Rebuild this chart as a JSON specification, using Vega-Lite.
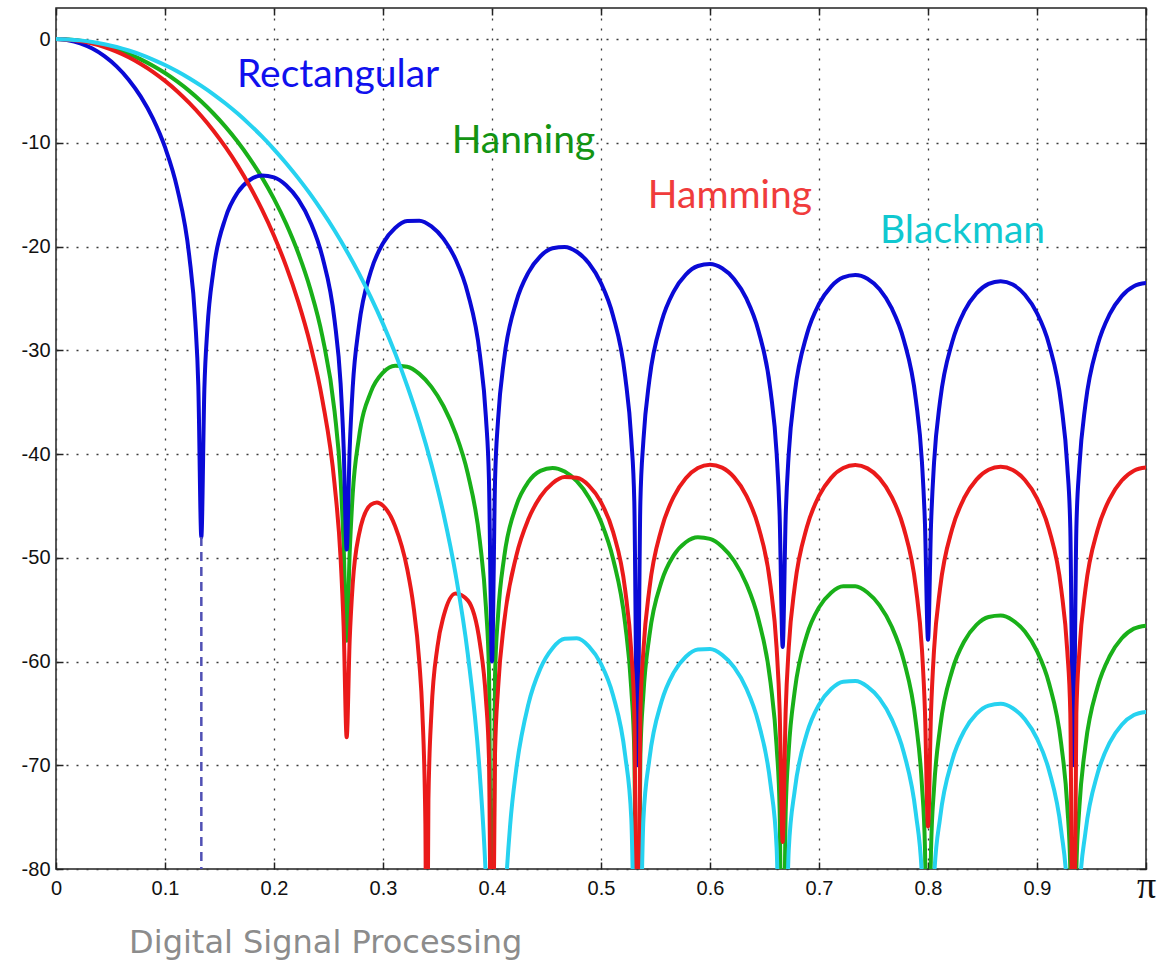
{
  "$schema": "https://vega.github.io/schema/vega-lite/v6.json",
  "width": 1090,
  "height": 861,
  "autosize": {"type": "none"},
  "padding": {"left": 56, "top": 8, "right": 12, "bottom": 91},
  "background": "white",
  "config": {
    "view": {"stroke": "#222222", "strokeWidth": 1.5},
    "axis": {"labelFont": "Liberation Sans", "labelFontSize": 20, "labelColor": "#111111", "tickColor": "#222222", "tickWidth": 1.5, "domain": false, "gridColor": "#3a3a3a", "gridDash": [2, 8], "gridWidth": 1.3, "gridOpacity": 1, "labelFlush": false}
  },
  "title": {"text": "Digital Signal Processing", "orient": "bottom", "anchor": "start", "dx": 108, "offset": 23, "font": "DejaVu Sans", "fontSize": 32, "fontWeight": "normal", "color": "#8c8c8c"},
  "resolve": {"axis": {"x": "independent", "y": "independent"}},
  "datasets": {
    "rect": [{"x":0,"y":0},{"x":0.01111,"y":-0.1},{"x":0.02222,"y":-0.4},{"x":0.03333,"y":-0.91},{"x":0.04444,"y":-1.64},{"x":0.05556,"y":-2.63},{"x":0.06667,"y":-3.91},{"x":0.07778,"y":-5.54},{"x":0.08889,"y":-7.64},{"x":0.1,"y":-10.42},{"x":0.11111,"y":-14.34},{"x":0.12222,"y":-20.87},{"x":0.12778,"y":-27.2},{"x":0.13056,"y":-33.39},{"x":0.13333,"y":-48},{"x":0.13611,"y":-33.74},{"x":0.13889,"y":-27.91},{"x":0.14444,"y":-22.3},{"x":0.15556,"y":-17.22},{"x":0.16667,"y":-14.79},{"x":0.17778,"y":-13.58},{"x":0.18889,"y":-13.14},{"x":0.2,"y":-13.32},{"x":0.21111,"y":-14.08},{"x":0.22222,"y":-15.45},{"x":0.23333,"y":-17.62},{"x":0.24444,"y":-21.01},{"x":0.25556,"y":-27.1},{"x":0.26111,"y":-33.22},{"x":0.26389,"y":-39.31},{"x":0.26667,"y":-49.2},{"x":0.26944,"y":-39.48},{"x":0.27222,"y":-33.56},{"x":0.27778,"y":-27.78},{"x":0.28889,"y":-22.38},{"x":0.3,"y":-19.67},{"x":0.31111,"y":-18.2},{"x":0.32222,"y":-17.53},{"x":0.33333,"y":-17.5},{"x":0.34444,"y":-18.06},{"x":0.35556,"y":-19.26},{"x":0.36667,"y":-21.25},{"x":0.37778,"y":-24.49},{"x":0.38889,"y":-30.43},{"x":0.39444,"y":-36.49},{"x":0.39722,"y":-42.54},{"x":0.4,"y":-60},{"x":0.40278,"y":-42.65},{"x":0.40556,"y":-36.7},{"x":0.41111,"y":-30.85},{"x":0.42222,"y":-25.33},{"x":0.43333,"y":-22.51},{"x":0.44444,"y":-20.93},{"x":0.45556,"y":-20.16},{"x":0.46667,"y":-20.03},{"x":0.47778,"y":-20.5},{"x":0.48889,"y":-21.61},{"x":0.5,"y":-23.52},{"x":0.51111,"y":-26.68},{"x":0.52222,"y":-32.55},{"x":0.52778,"y":-38.57},{"x":0.53056,"y":-44.6},{"x":0.53333,"y":-70},{"x":0.53611,"y":-44.67},{"x":0.53889,"y":-38.7},{"x":0.54444,"y":-32.82},{"x":0.55556,"y":-27.23},{"x":0.56667,"y":-24.34},{"x":0.57778,"y":-22.7},{"x":0.58889,"y":-21.87},{"x":0.6,"y":-21.68},{"x":0.61111,"y":-22.09},{"x":0.62222,"y":-23.14},{"x":0.63333,"y":-25},{"x":0.64444,"y":-28.11},{"x":0.65556,"y":-33.92},{"x":0.66111,"y":-39.92},{"x":0.66389,"y":-45.94},{"x":0.66667,"y":-58.6},{"x":0.66944,"y":-45.99},{"x":0.67222,"y":-40.01},{"x":0.67778,"y":-34.1},{"x":0.68889,"y":-28.46},{"x":0.7,"y":-25.53},{"x":0.71111,"y":-23.85},{"x":0.72222,"y":-22.97},{"x":0.73333,"y":-22.74},{"x":0.74444,"y":-23.1},{"x":0.75556,"y":-24.12},{"x":0.76667,"y":-25.94},{"x":0.77778,"y":-29},{"x":0.78889,"y":-34.78},{"x":0.79444,"y":-40.75},{"x":0.79722,"y":-46.76},{"x":0.8,"y":-57.9},{"x":0.80278,"y":-46.79},{"x":0.80556,"y":-40.8},{"x":0.81111,"y":-34.87},{"x":0.82222,"y":-29.2},{"x":0.83333,"y":-26.23},{"x":0.84444,"y":-24.51},{"x":0.85556,"y":-23.6},{"x":0.86667,"y":-23.33},{"x":0.87778,"y":-23.66},{"x":0.88889,"y":-24.64},{"x":0.9,"y":-26.42},{"x":0.91111,"y":-29.46},{"x":0.92222,"y":-35.2},{"x":0.92778,"y":-41.16},{"x":0.93056,"y":-47.16},{"x":0.93333,"y":-70},{"x":0.93611,"y":-47.17},{"x":0.93889,"y":-41.17},{"x":0.94444,"y":-35.23},{"x":0.95556,"y":-29.52},{"x":0.96667,"y":-26.52},{"x":0.97778,"y":-24.77},{"x":0.98889,"y":-23.82},{"x":1,"y":-23.52}],
    "hanning": [{"x":0,"y":0},{"x":0.01111,"y":-0.04},{"x":0.02222,"y":-0.16},{"x":0.03333,"y":-0.35},{"x":0.04444,"y":-0.63},{"x":0.05556,"y":-0.98},{"x":0.06667,"y":-1.42},{"x":0.07778,"y":-1.95},{"x":0.08889,"y":-2.57},{"x":0.1,"y":-3.27},{"x":0.11111,"y":-4.08},{"x":0.12222,"y":-4.99},{"x":0.13333,"y":-6.02},{"x":0.14444,"y":-7.17},{"x":0.15556,"y":-8.46},{"x":0.16667,"y":-9.89},{"x":0.17778,"y":-11.51},{"x":0.18889,"y":-13.33},{"x":0.2,"y":-15.4},{"x":0.21111,"y":-17.79},{"x":0.22222,"y":-20.62},{"x":0.23333,"y":-24.1},{"x":0.24444,"y":-28.68},{"x":0.25556,"y":-35.87},{"x":0.26111,"y":-42.5},{"x":0.26389,"y":-48.84},{"x":0.26667,"y":-58},{"x":0.26944,"y":-49.51},{"x":0.27222,"y":-43.83},{"x":0.27778,"y":-38.52},{"x":0.28889,"y":-34.01},{"x":0.3,"y":-32.15},{"x":0.31111,"y":-31.48},{"x":0.32222,"y":-31.58},{"x":0.33333,"y":-32.27},{"x":0.34444,"y":-33.52},{"x":0.35556,"y":-35.39},{"x":0.36667,"y":-38.03},{"x":0.37778,"y":-41.88},{"x":0.38889,"y":-48.42},{"x":0.39444,"y":-54.76},{"x":0.39722,"y":-60.96},{"x":0.4,"y":-100},{"x":0.40278,"y":-61.35},{"x":0.40556,"y":-55.54},{"x":0.41111,"y":-49.97},{"x":0.42222,"y":-44.99},{"x":0.43333,"y":-42.69},{"x":0.44444,"y":-41.62},{"x":0.45556,"y":-41.34},{"x":0.46667,"y":-41.69},{"x":0.47778,"y":-42.62},{"x":0.48889,"y":-44.18},{"x":0.5,"y":-46.53},{"x":0.51111,"y":-50.12},{"x":0.52222,"y":-56.4},{"x":0.52778,"y":-62.63},{"x":0.53056,"y":-68.76},{"x":0.53333,"y":-100},{"x":0.53611,"y":-69.03},{"x":0.53889,"y":-63.16},{"x":0.54444,"y":-57.48},{"x":0.55556,"y":-52.28},{"x":0.56667,"y":-49.77},{"x":0.57778,"y":-48.5},{"x":0.58889,"y":-48.02},{"x":0.6,"y":-48.18},{"x":0.61111,"y":-48.93},{"x":0.62222,"y":-50.31},{"x":0.63333,"y":-52.5},{"x":0.64444,"y":-55.92},{"x":0.65556,"y":-62.04},{"x":0.66111,"y":-68.18},{"x":0.66389,"y":-74.28},{"x":0.66667,"y":-100},{"x":0.66944,"y":-74.47},{"x":0.67222,"y":-68.56},{"x":0.67778,"y":-62.8},{"x":0.68889,"y":-57.44},{"x":0.7,"y":-54.78},{"x":0.71111,"y":-53.36},{"x":0.72222,"y":-52.74},{"x":0.73333,"y":-52.75},{"x":0.74444,"y":-53.35},{"x":0.75556,"y":-54.59},{"x":0.76667,"y":-56.63},{"x":0.77778,"y":-59.91},{"x":0.78889,"y":-65.88},{"x":0.79444,"y":-71.95},{"x":0.79722,"y":-78.01},{"x":0.8,"y":-100},{"x":0.80278,"y":-78.13},{"x":0.80556,"y":-72.19},{"x":0.81111,"y":-66.35},{"x":0.82222,"y":-60.85},{"x":0.83333,"y":-58.04},{"x":0.84444,"y":-56.47},{"x":0.85556,"y":-55.71},{"x":0.86667,"y":-55.57},{"x":0.87778,"y":-56.03},{"x":0.88889,"y":-57.11},{"x":0.9,"y":-59},{"x":0.91111,"y":-62.13},{"x":0.92222,"y":-67.95},{"x":0.92778,"y":-73.94},{"x":0.93056,"y":-79.96},{"x":0.93333,"y":-100},{"x":0.93611,"y":-80},{"x":0.93889,"y":-74.02},{"x":0.94444,"y":-68.11},{"x":0.95556,"y":-62.45},{"x":0.96667,"y":-59.49},{"x":0.97778,"y":-57.76},{"x":0.98889,"y":-56.83},{"x":1,"y":-56.54}],
    "hamming": [{"x":0,"y":0},{"x":0.01111,"y":-0.05},{"x":0.02222,"y":-0.19},{"x":0.03333,"y":-0.43},{"x":0.04444,"y":-0.77},{"x":0.05556,"y":-1.21},{"x":0.06667,"y":-1.75},{"x":0.07778,"y":-2.4},{"x":0.08889,"y":-3.15},{"x":0.1,"y":-4.03},{"x":0.11111,"y":-5.02},{"x":0.12222,"y":-6.15},{"x":0.13333,"y":-7.41},{"x":0.14444,"y":-8.83},{"x":0.15556,"y":-10.42},{"x":0.16667,"y":-12.19},{"x":0.17778,"y":-14.18},{"x":0.18889,"y":-16.42},{"x":0.2,"y":-18.96},{"x":0.21111,"y":-21.88},{"x":0.22222,"y":-25.31},{"x":0.23333,"y":-29.45},{"x":0.24444,"y":-34.82},{"x":0.25556,"y":-42.89},{"x":0.26111,"y":-50.05},{"x":0.26389,"y":-56.65},{"x":0.26667,"y":-67.3},{"x":0.26944,"y":-57.89},{"x":0.27222,"y":-52.52},{"x":0.27778,"y":-47.84},{"x":0.28889,"y":-44.87},{"x":0.29444,"y":-44.66},{"x":0.3,"y":-44.97},{"x":0.31111,"y":-46.95},{"x":0.32222,"y":-51.08},{"x":0.32778,"y":-54.52},{"x":0.33333,"y":-60.08},{"x":0.33611,"y":-64.93},{"x":0.33889,"y":-75.71},{"x":0.34007,"y":-100},{"x":0.34167,"y":-73.32},{"x":0.34444,"y":-64.91},{"x":0.35,"y":-58.56},{"x":0.35556,"y":-55.64},{"x":0.36667,"y":-53.43},{"x":0.37778,"y":-54.1},{"x":0.38889,"y":-58.24},{"x":0.39444,"y":-63.62},{"x":0.39722,"y":-69.33},{"x":0.4,"y":-100},{"x":0.40278,"y":-68.83},{"x":0.40556,"y":-62.61},{"x":0.41111,"y":-56.23},{"x":0.42222,"y":-49.84},{"x":0.43333,"y":-46.29},{"x":0.44444,"y":-44.11},{"x":0.45556,"y":-42.81},{"x":0.46667,"y":-42.22},{"x":0.47778,"y":-42.29},{"x":0.48889,"y":-43.04},{"x":0.5,"y":-44.64},{"x":0.51111,"y":-47.52},{"x":0.52222,"y":-53.13},{"x":0.52778,"y":-59.03},{"x":0.53056,"y":-65.01},{"x":0.53333,"y":-100},{"x":0.53611,"y":-64.97},{"x":0.53889,"y":-58.95},{"x":0.54444,"y":-52.96},{"x":0.55556,"y":-47.19},{"x":0.56667,"y":-44.13},{"x":0.57778,"y":-42.33},{"x":0.58889,"y":-41.35},{"x":0.6,"y":-41.03},{"x":0.61111,"y":-41.31},{"x":0.62222,"y":-42.25},{"x":0.63333,"y":-44},{"x":0.64444,"y":-47.01},{"x":0.65556,"y":-52.73},{"x":0.66111,"y":-58.69},{"x":0.66389,"y":-64.69},{"x":0.66667,"y":-77.4},{"x":0.66944,"y":-64.69},{"x":0.67222,"y":-58.69},{"x":0.67778,"y":-52.75},{"x":0.68889,"y":-47.04},{"x":0.7,"y":-44.04},{"x":0.71111,"y":-42.29},{"x":0.72222,"y":-41.35},{"x":0.73333,"y":-41.06},{"x":0.74444,"y":-41.38},{"x":0.75556,"y":-42.34},{"x":0.76667,"y":-44.12},{"x":0.77778,"y":-47.14},{"x":0.78889,"y":-52.88},{"x":0.79444,"y":-58.83},{"x":0.79722,"y":-64.84},{"x":0.8,"y":-75.9},{"x":0.80278,"y":-64.85},{"x":0.80556,"y":-58.85},{"x":0.81111,"y":-52.91},{"x":0.82222,"y":-47.2},{"x":0.83333,"y":-44.21},{"x":0.84444,"y":-42.46},{"x":0.85556,"y":-41.52},{"x":0.86667,"y":-41.23},{"x":0.87778,"y":-41.54},{"x":0.88889,"y":-42.5},{"x":0.9,"y":-44.27},{"x":0.91111,"y":-47.29},{"x":0.92222,"y":-53.02},{"x":0.92778,"y":-58.97},{"x":0.93056,"y":-64.97},{"x":0.93333,"y":-100},{"x":0.93611,"y":-64.97},{"x":0.93889,"y":-58.98},{"x":0.94444,"y":-53.03},{"x":0.95556,"y":-47.32},{"x":0.96667,"y":-44.31},{"x":0.97778,"y":-42.55},{"x":0.98889,"y":-41.6},{"x":1,"y":-41.3}],
    "blackman": [{"x":0,"y":0},{"x":0.01111,"y":-0.03},{"x":0.02222,"y":-0.12},{"x":0.03333,"y":-0.27},{"x":0.04444,"y":-0.49},{"x":0.05556,"y":-0.76},{"x":0.06667,"y":-1.1},{"x":0.07778,"y":-1.5},{"x":0.08889,"y":-1.97},{"x":0.1,"y":-2.5},{"x":0.11111,"y":-3.1},{"x":0.12222,"y":-3.77},{"x":0.13333,"y":-4.51},{"x":0.14444,"y":-5.32},{"x":0.15556,"y":-6.21},{"x":0.16667,"y":-7.18},{"x":0.17778,"y":-8.24},{"x":0.18889,"y":-9.38},{"x":0.2,"y":-10.62},{"x":0.21111,"y":-11.96},{"x":0.22222,"y":-13.4},{"x":0.23333,"y":-14.95},{"x":0.24444,"y":-16.64},{"x":0.25556,"y":-18.45},{"x":0.26667,"y":-20.42},{"x":0.27778,"y":-22.56},{"x":0.28889,"y":-24.9},{"x":0.3,"y":-27.45},{"x":0.31111,"y":-30.27},{"x":0.32222,"y":-33.42},{"x":0.33333,"y":-36.95},{"x":0.34444,"y":-41.01},{"x":0.35556,"y":-45.78},{"x":0.36667,"y":-51.62},{"x":0.37778,"y":-59.28},{"x":0.38889,"y":-70.97},{"x":0.39444,"y":-81.06},{"x":0.4,"y":-100},{"x":0.40622,"y":-100},{"x":0.41111,"y":-85.03},{"x":0.41667,"y":-75.74},{"x":0.42222,"y":-70.4},{"x":0.43333,"y":-64.13},{"x":0.44444,"y":-60.66},{"x":0.45556,"y":-58.71},{"x":0.46667,"y":-57.81},{"x":0.47778,"y":-57.76},{"x":0.48889,"y":-58.53},{"x":0.5,"y":-60.23},{"x":0.51111,"y":-63.27},{"x":0.52222,"y":-69.07},{"x":0.52778,"y":-75.09},{"x":0.53333,"y":-100},{"x":0.53889,"y":-75.24},{"x":0.54444,"y":-69.38},{"x":0.55556,"y":-63.86},{"x":0.56667,"y":-61.07},{"x":0.57778,"y":-59.54},{"x":0.58889,"y":-58.84},{"x":0.6,"y":-58.8},{"x":0.61111,"y":-59.36},{"x":0.62222,"y":-60.57},{"x":0.63333,"y":-62.6},{"x":0.64444,"y":-65.88},{"x":0.65556,"y":-71.86},{"x":0.66111,"y":-77.94},{"x":0.66667,"y":-100},{"x":0.67222,"y":-78.21},{"x":0.67778,"y":-72.39},{"x":0.68889,"y":-66.92},{"x":0.7,"y":-64.16},{"x":0.71111,"y":-62.65},{"x":0.72222,"y":-61.94},{"x":0.73333,"y":-61.88},{"x":0.74444,"y":-62.41},{"x":0.75556,"y":-63.58},{"x":0.76667,"y":-65.55},{"x":0.77778,"y":-68.77},{"x":0.78889,"y":-74.68},{"x":0.79444,"y":-80.73},{"x":0.8,"y":-100},{"x":0.80556,"y":-80.91},{"x":0.81111,"y":-75.05},{"x":0.82222,"y":-69.51},{"x":0.83333,"y":-66.66},{"x":0.84444,"y":-65.05},{"x":0.85556,"y":-64.25},{"x":0.86667,"y":-64.08},{"x":0.87778,"y":-64.5},{"x":0.88889,"y":-65.56},{"x":0.9,"y":-67.43},{"x":0.91111,"y":-70.53},{"x":0.92222,"y":-76.33},{"x":0.92778,"y":-82.32},{"x":0.93333,"y":-100},{"x":0.93889,"y":-82.38},{"x":0.94444,"y":-76.47},{"x":0.95556,"y":-70.8},{"x":0.96667,"y":-67.82},{"x":0.97778,"y":-66.09},{"x":0.98889,"y":-65.16},{"x":1,"y":-64.86}],
    "dash": [{"x":0.13333,"y":-48,"y2":-80}],
    "labels": [{"t":"Rectangular","x":0.166,"y":-3.44},{"t":"Hanning","x":0.363,"y":-9.82},{"t":"Hamming","x":0.543,"y":-15.1},{"t":"Blackman","x":0.756,"y":-18.5}]
  },
  "layer": [
    {
      "data": {"name": "hanning"},
      "mark": {"type": "line", "color": "#19b019", "strokeWidth": 4, "strokeCap": "round", "strokeJoin": "round", "interpolate": "monotone", "clip": true},
      "encoding": {
        "x": {"field": "x", "type": "quantitative", "scale": {"domain": [0, 1], "nice": false, "zero": false},
              "axis": {"orient": "bottom", "title": null, "values": [0, 0.1, 0.2, 0.3, 0.4, 0.5, 0.6, 0.7, 0.8, 0.9, 1], "format": ".1~f", "labelExpr": "datum.value > 0.999 ? 'π' : datum.label", "labelFontSize": {"condition": {"test": "datum.value > 0.999", "value": 38}, "value": 20}, "labelFont": {"condition": {"test": "datum.value > 0.999", "value": "Liberation Serif"}, "value": "Liberation Sans"}, "labelBaseline": {"condition": {"test": "datum.value > 0.999", "value": "middle"}, "value": "top"}, "labelPadding": {"condition": {"test": "datum.value > 0.999", "value": 24}, "value": 16}, "grid": true, "ticks": true, "tickSize": -7, "labelFlush": false}},
        "y": {"field": "y", "type": "quantitative", "scale": {"domain": [-80, 3], "nice": false, "zero": false},
              "axis": {"orient": "left", "title": null, "values": [-80, -70, -60, -50, -40, -30, -20, -10, 0], "labelExpr": "toString(datum.value)", "grid": true, "ticks": true, "tickSize": -7, "labelPadding": 13, "labelFlush": false}}
      }
    },
    {
      "data": {"name": "rect"},
      "mark": {"type": "line", "color": "#0a0ad6", "strokeWidth": 4, "strokeCap": "round", "strokeJoin": "round", "interpolate": "monotone", "clip": true},
      "encoding": {
        "x": {"field": "x", "type": "quantitative", "axis": {"orient": "top", "title": null, "values": [0, 0.1, 0.2, 0.3, 0.4, 0.5, 0.6, 0.7, 0.8, 0.9, 1], "labels": false, "grid": false, "ticks": true, "tickSize": -7}},
        "y": {"field": "y", "type": "quantitative", "axis": {"orient": "right", "title": null, "values": [-80, -70, -60, -50, -40, -30, -20, -10, 0], "labels": false, "grid": false, "ticks": true, "tickSize": -7}}
      }
    },
    {
      "data": {"name": "hamming"},
      "mark": {"type": "line", "color": "#ea1a1a", "strokeWidth": 4, "strokeCap": "round", "strokeJoin": "round", "interpolate": "monotone", "clip": true},
      "encoding": {
        "x": {"field": "x", "type": "quantitative", "axis": null},
        "y": {"field": "y", "type": "quantitative", "axis": null}
      }
    },
    {
      "data": {"name": "blackman"},
      "mark": {"type": "line", "color": "#26d2f0", "strokeWidth": 4, "strokeCap": "round", "strokeJoin": "round", "interpolate": "monotone", "clip": true},
      "encoding": {
        "x": {"field": "x", "type": "quantitative", "axis": null},
        "y": {"field": "y", "type": "quantitative", "axis": null}
      }
    },
    {
      "data": {"name": "dash"},
      "mark": {"type": "rule", "color": "#5050b4", "strokeWidth": 2.5, "strokeDash": [9, 6]},
      "encoding": {
        "x": {"field": "x", "type": "quantitative", "axis": null},
        "y": {"field": "y", "type": "quantitative", "axis": null},
        "y2": {"field": "y2"}
      }
    },
    {
      "data": {"name": "labels"},
      "mark": {"type": "text", "align": "left", "baseline": "middle", "font": "Lato", "fontSize": 39},
      "encoding": {
        "x": {"field": "x", "type": "quantitative", "axis": null},
        "y": {"field": "y", "type": "quantitative", "axis": null},
        "text": {"field": "t"},
        "color": {"field": "t", "type": "nominal", "legend": null, "scale": {"domain": ["Rectangular", "Hanning", "Hamming", "Blackman"], "range": ["#1010ee", "#139413", "#f03c3c", "#10c8d0"]}}
      }
    }
  ]
}
